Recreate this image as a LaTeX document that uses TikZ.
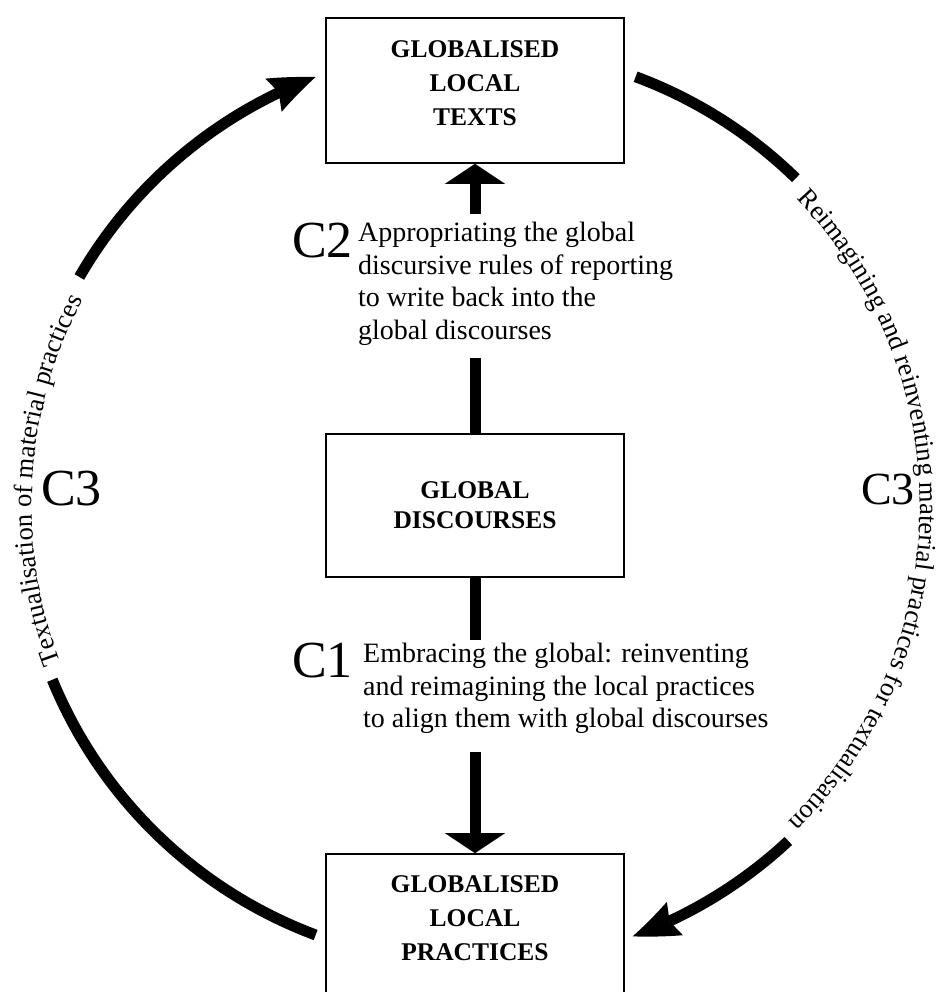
\documentclass[tikz,border=0pt]{standalone}
\usepackage{fontspec}
\setmainfont{Liberation Serif}
\usetikzlibrary{arrows.meta,bending,calc,decorations.text}
\newcommand\ringfont{\fontsize{26.5}{30}\selectfont}
\begin{document}
\begin{tikzpicture}[x=1pt,y=1pt,
  box/.style={draw, line width=1.6pt, minimum width=298pt, minimum height=145pt, inner sep=0pt},
  boxtext/.style={font=\bfseries\fontsize{25.5}{34}\selectfont, align=center, inner sep=0pt, anchor=north},
  bodytext/.style={font=\fontsize{28}{32.5}\selectfont, align=left, inner sep=0pt, anchor=north west},
  clabel/.style={font=\fontsize{52}{52}\selectfont, inner sep=0pt, anchor=base west},
  shaft/.style={line width=11pt},
  flow/.style={line width=11pt},
  vtip/.style={-{Triangle[length=20pt,width=60pt,line width=0pt]}},
  ctip/.style={-{Stealth[length=46pt,width=37pt,inset=6pt,line width=0pt,bend]}},
  ringtext/.style={decorate, decoration={text along path, text align=center, text={|\ringfont|#1}}}
]
\useasboundingbox (0,0) rectangle (945,992);
\fill[white] (0,0) rectangle (945,992);
\coordinate (c) at (476,486);

% boxes
\node[box] (top) at (475,901.5) {};
\node[box, minimum height=143pt] (mid) at (475,486.5) {};
\node[box] (bot) at (475,65.5) {};
\node[boxtext] (toptext) at (475,951.3) {GLOBALISED\\LOCAL\\TEXTS};
\node[boxtext, font=\bfseries\fontsize{25.5}{30}\selectfont] (midtext) at (475,510.3) {GLOBAL\\DISCOURSES};
\node[boxtext] (bottext) at (475,116.3) {GLOBALISED\\LOCAL\\PRACTICES};

% vertical connectors
\coordinate (c2lo) at (475,634);
\coordinate (c2hi) at (475,778);
\draw[shaft] (mid.north) -- (c2lo);
\draw[shaft,vtip] (c2hi) -- (top.south);
\coordinate (c1hi) at (475,352);
\coordinate (c1lo) at (475,240);
\draw[shaft] (mid.south) -- (c1hi);
\draw[shaft,vtip] (c1lo) -- (bot.north);

% labels
\node[clabel] (c2) at (292,734) {C2};
\node[bodytext] (c2text) at (358,770) {Appropriating the global\\discursive rules of reporting\\to write back into the\\global discourses};
\node[clabel] (c1) at (292,314) {C1};
\node[bodytext] (c1text) at (363,349) {Embracing the global: reinventing\\and reimagining the local practices\\to align them with global discourses};
\node[clabel] (c3l) at (41,486) {C3};
\node[clabel, font=\fontsize{46}{46}\selectfont] (c3r) at (861,487) {C3};

% circular connectors
\coordinate (ulA) at ($(c)+(150:458)$);
\draw[flow,ctip] (ulA) arc[start angle=150, end angle=110.5, radius=458];
\coordinate (urA) at ($(c)+(69.6:458)$);
\draw[flow] (urA) arc[start angle=69.6, end angle=45.7, radius=458];
\coordinate (lrA) at ($(c)+(-47:458)$);
\draw[flow,ctip] (lrA) arc[start angle=-47, end angle=-70, radius=458];
\coordinate (llA) at ($(c)+(249.5:458)$);
\draw[flow] (llA) arc[start angle=249.5, end angle=202.3, radius=458];

% text along the circle
\coordinate (ltA) at ($(c)+(220:444)$);
\path[ringtext={Textualisation of material practices}] (ltA) arc[start angle=220, end angle=133, radius=444];
\coordinate (rtA) at ($(c)+(50:444)$);
\path[ringtext={Reimagining and reinventing material practices for textualisation}] (rtA) arc[start angle=50, end angle=-51.6, radius=444];
\end{tikzpicture}
\end{document}
